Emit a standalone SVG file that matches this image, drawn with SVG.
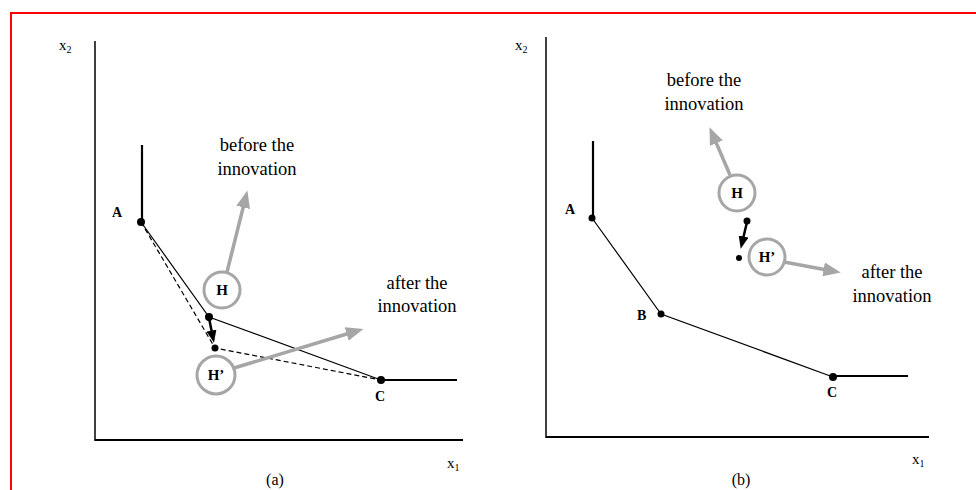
<svg xmlns="http://www.w3.org/2000/svg" width="976" height="490" viewBox="0 0 976 490">
<style>
text{font-family:"Liberation Serif","Times New Roman",serif;fill:#000}
.lbl{font-size:14px;font-weight:bold}
.hl{font-size:15px;font-weight:bold;text-anchor:middle}
.ax{font-size:15px}
.sub{font-size:10px}
.note{font-size:18.5px;text-anchor:middle}
.cap{font-size:16px;text-anchor:middle}
.axis{stroke:#000;fill:none}
.iso{stroke:#000;stroke-width:1.2;fill:none}
.dash{stroke:#000;stroke-width:1.2;fill:none;stroke-dasharray:5,3}
.thick{stroke:#000;stroke-width:2.2;fill:none}
.ring{fill:#fff;stroke:#a6a6a6;stroke-width:3}
.garr{stroke:#a6a6a6;stroke-width:3.5;fill:none;marker-end:url(#ga)}
.barr{stroke:#000;stroke-width:2.5;fill:none;marker-end:url(#ba)}
</style>
<defs>
<marker id="ga" markerWidth="5" markerHeight="4" refX="1" refY="2" orient="auto" markerUnits="strokeWidth">
<path d="M0,0 L5,2 L0,4 Z" fill="#a6a6a6"/>
</marker>
<marker id="ba" markerWidth="5" markerHeight="4" refX="1" refY="2" orient="auto" markerUnits="strokeWidth">
<path d="M0,0 L5,2 L0,4 Z" fill="#000"/>
</marker>
</defs>
<rect width="976" height="490" fill="#fff"/>
<path d="M11,500 L11,13 L980,13" stroke="#ff0000" stroke-width="2" fill="none"/>

<!-- Panel (a) -->
<g id="panel-a-axes">
<line class="axis" x1="95" y1="41" x2="95" y2="441" stroke-width="1.5"/>
<line class="axis" x1="95" y1="440" x2="463" y2="440" stroke-width="2.2"/>
<text class="ax" x="59" y="50">x<tspan class="sub" dy="3">2</tspan></text>
<text class="ax" x="447" y="468">x<tspan class="sub" dy="3">1</tspan></text>
<text class="cap" x="275" y="485">(a)</text>
</g>
<g id="connectors-a">
<line class="thick" x1="142" y1="145" x2="142" y2="222"/>
<polyline class="iso" points="141,222 209,317 381,380"/>
<polyline class="dash" points="141,222 215,348 381,380"/>
<line class="thick" x1="381" y1="380" x2="457" y2="380"/>
<line class="barr" x1="209" y1="318" x2="212" y2="333"/>
<line class="garr" x1="227" y1="272" x2="244" y2="204"/>
<line class="garr" x1="234" y1="368" x2="350" y2="333"/>
</g>
<g id="node-a-A">
<circle cx="141" cy="222" r="4"/>
<text class="lbl" x="112" y="217">A</text>
</g>
<g id="node-a-H-point">
<circle cx="209" cy="317" r="4"/>
</g>
<g id="node-a-Hp-point">
<circle cx="215" cy="348" r="3.5"/>
</g>
<g id="node-a-C">
<circle cx="381" cy="380" r="4"/>
<text class="lbl" x="380" y="401" text-anchor="middle">C</text>
</g>
<g id="node-a-H">
<circle class="ring" cx="222" cy="290" r="18"/>
<text class="hl" x="222" y="295">H</text>
</g>
<g id="node-a-Hp">
<circle class="ring" cx="216" cy="375" r="19"/>
<text class="hl" x="216" y="380">H’</text>
</g>
<g id="label-a-before">
<text class="note" x="257" y="151">before the</text>
<text class="note" x="257" y="175">innovation</text>
</g>
<g id="label-a-after">
<text class="note" x="417" y="289">after the</text>
<text class="note" x="417" y="312">innovation</text>
</g>

<!-- Panel (b) -->
<g id="panel-b-axes">
<line class="axis" x1="546" y1="37" x2="546" y2="438" stroke-width="1.5"/>
<line class="axis" x1="546" y1="437" x2="929" y2="437" stroke-width="2.2"/>
<text class="ax" x="515" y="50">x<tspan class="sub" dy="3">2</tspan></text>
<text class="ax" x="912" y="464">x<tspan class="sub" dy="3">1</tspan></text>
<text class="cap" x="741" y="485">(b)</text>
</g>
<g id="connectors-b">
<line class="thick" x1="593" y1="141" x2="593" y2="218"/>
<polyline class="iso" points="592,218 661,314 833,377"/>
<line class="thick" x1="833" y1="376" x2="908" y2="376"/>
<line class="barr" x1="747" y1="222" x2="743" y2="239"/>
<line class="garr" x1="730" y1="175" x2="715" y2="140"/>
<line class="garr" x1="784" y1="262" x2="827" y2="270"/>
</g>
<g id="node-b-A">
<circle cx="592" cy="218" r="3.5"/>
<text class="lbl" x="565" y="214">A</text>
</g>
<g id="node-b-B">
<circle cx="661" cy="314" r="3.5"/>
<text class="lbl" x="637" y="320">B</text>
</g>
<g id="node-b-C">
<circle cx="833" cy="377" r="4"/>
<text class="lbl" x="832" y="397" text-anchor="middle">C</text>
</g>
<g id="node-b-H-point">
<circle cx="747" cy="221" r="3.5"/>
</g>
<g id="node-b-Hp-point">
<circle cx="739" cy="258" r="3"/>
</g>
<g id="node-b-H">
<circle class="ring" cx="737" cy="193" r="18"/>
<text class="hl" x="737" y="198">H</text>
</g>
<g id="node-b-Hp">
<circle class="ring" cx="767" cy="257" r="18"/>
<text class="hl" x="767" y="262">H’</text>
</g>
<g id="label-b-before">
<text class="note" x="704" y="86">before the</text>
<text class="note" x="704" y="110">innovation</text>
</g>
<g id="label-b-after">
<text class="note" x="892" y="278">after the</text>
<text class="note" x="892" y="302">innovation</text>
</g>
</svg>
